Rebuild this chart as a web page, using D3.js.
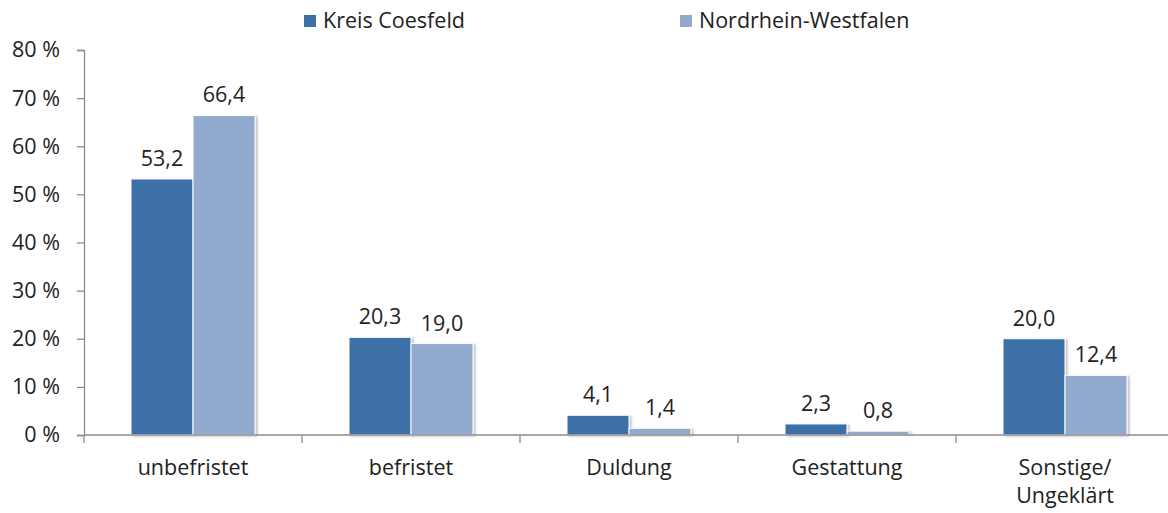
<!DOCTYPE html>
<html>
<head>
<meta charset="utf-8">
<script src="https://cdn.jsdelivr.net/npm/d3@7"></script>
<style>
  html, body { margin: 0; padding: 0; background: #fff; }
  svg { display: block; font-family: "Open Sans", sans-serif; }
</style>
</head>
<body>
<div id="chart"></div>
<script>
// Aufenthaltsstatus — Kreis Coesfeld vs. NRW

const categories = ['unbefristet', 'befristet', 'Duldung', 'Gestattung', 'Sonstige/\nUngeklärt'];
const seriesNames = ['Kreis Coesfeld', 'Nordrhein-Westfalen'];
const coesfeld = [53.2, 20.3, 4.1, 2.3, 20.0];
const nrw = [66.4, 19.0, 1.4, 0.8, 12.4];
const yTicks = [0, 10, 20, 30, 40, 50, 60, 70, 80];

const colors = ['#3e6fa6', '#93aacf'];
const textColor = '#222';
const axisColor = '#8c8c8c';
const fontSize = '21.5px';

const W = 1168, H = 513;
const margin = { top: 50, left: 84 };
const plotW = 1090;       // runs slightly past the right edge, like the source
const plotH = 385;

const svg = d3.select('#chart').append('svg')
  .attr('width', W)
  .attr('height', H);

// soft shadow on the bars
const defs = svg.append('defs');
const filter = defs.append('filter')
  .attr('id', 'shadow')
  .attr('x', '-10%').attr('y', '-10%')
  .attr('width', '130%').attr('height', '130%');
filter.append('feDropShadow')
  .attr('dx', 2).attr('dy', 1)
  .attr('stdDeviation', 1.2)
  .attr('flood-color', '#000')
  .attr('flood-opacity', 0.25);

const g = svg.append('g')
  .attr('transform', `translate(${margin.left},${margin.top})`);

// Scales
const x0 = d3.scaleBand()
  .domain(categories)
  .range([0, plotW])
  .padding(0);

const x1 = d3.scaleBand()
  .domain(seriesNames)
  .range([47, 171])
  .padding(0);

const y = d3.scaleLinear()
  .domain([0, 80])
  .range([plotH, 0]);

// Y axis
const yAxis = g.append('g')
  .call(d3.axisLeft(y).tickValues(yTicks).tickSize(7).tickPadding(17)
    .tickFormat(d => `${d} %`));
yAxis.select('.domain').attr('stroke', axisColor).attr('stroke-width', 1.3);
yAxis.selectAll('.tick line').attr('stroke', axisColor).attr('stroke-width', 1.3);
yAxis.selectAll('text')
  .attr('font-size', fontSize)
  .attr('font-family', '"Open Sans", sans-serif')
  .attr('fill', textColor);

// Bars
const series = [coesfeld, nrw];
series.forEach((vals, si) => {
  g.selectAll(`.bar-${si}`)
    .data(categories.map((c, i) => ({ cat: c, value: vals[i] })))
    .enter()
    .append('rect')
    .attr('x', d => x0(d.cat) + x1(seriesNames[si]))
    .attr('y', d => y(d.value))
    .attr('width', x1.bandwidth())
    .attr('height', d => plotH - y(d.value))
    .attr('fill', colors[si])
    .attr('stroke', '#fff')
    .attr('stroke-width', 1)
    .attr('filter', 'url(#shadow)');

  g.selectAll(`.label-${si}`)
    .data(categories.map((c, i) => ({ cat: c, value: vals[i] })))
    .enter()
    .append('text')
    .attr('x', d => x0(d.cat) + x1(seriesNames[si]) + x1.bandwidth() / 2)
    .attr('y', d => y(d.value) - 13)
    .attr('text-anchor', 'middle')
    .attr('font-size', fontSize)
    .attr('fill', textColor)
    .text(d => d.value.toFixed(1).replace('.', ','));
});

// X axis with ticks between categories
const xAxis = g.append('g')
  .attr('transform', `translate(0,${plotH})`);
xAxis.append('line')
  .attr('x1', 0).attr('x2', plotW)
  .attr('stroke', axisColor).attr('stroke-width', 1.3);
xAxis.selectAll('.sep')
  .data(categories)
  .enter()
  .append('line')
  .attr('x1', d => x0(d)).attr('x2', d => x0(d))
  .attr('y1', 0).attr('y2', 8)
  .attr('stroke', axisColor).attr('stroke-width', 1.3);

const catLabels = xAxis.selectAll('.cat')
  .data(categories)
  .enter()
  .append('text')
  .attr('x', d => x0(d) + x0.bandwidth() / 2)
  .attr('y', 40)
  .attr('text-anchor', 'middle')
  .attr('font-size', fontSize)
  .attr('fill', textColor);
catLabels.each(function (d) {
  const lines = d.split('\n');
  lines.forEach((ln, i) => {
    d3.select(this).append('tspan')
      .attr('x', x0(d) + x0.bandwidth() / 2)
      .attr('dy', i === 0 ? 0 : 28)
      .text(ln);
  });
});

// Legend
const legendX = [304, 680];
seriesNames.forEach((name, i) => {
  svg.append('rect')
    .attr('x', legendX[i]).attr('y', 15)
    .attr('width', 12).attr('height', 12)
    .attr('fill', colors[i]);
  svg.append('text')
    .attr('x', legendX[i] + 19).attr('y', 28)
    .attr('font-size', fontSize)
    .attr('fill', textColor)
    .text(name);
});
</script>
</body>
</html>
